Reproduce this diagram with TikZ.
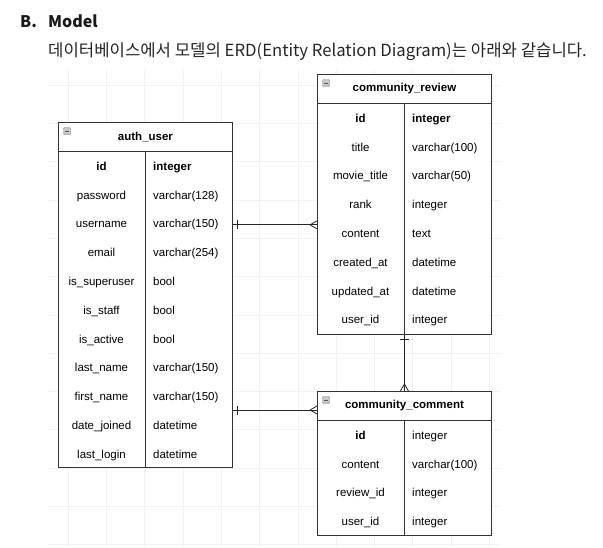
\documentclass[tikz,border=0pt]{standalone}
\usepackage{fontspec}
\setmainfont{Liberation Sans}
\newfontfamily\krfont{Noto Sans CJK KR}
\usetikzlibrary{positioning}

\tikzset{
    gridline/.style={draw=black!5, line width=0.5pt},
    heading/.style={font=\krfont\bfseries\fontsize{16}{18}\selectfont, text=black!90, inner sep=0pt},
    intro/.style={font=\krfont\fontsize{16.7}{19}\selectfont, text=black!85, inner sep=0pt},
    tbl/.style={draw=black!80, fill=white, line width=0.9pt, inner sep=0pt, minimum width=174pt},
    tblline/.style={draw=black!80, line width=0.9pt},
    tbltitle/.style={font=\bfseries\fontsize{11.5}{13}\selectfont, inner sep=0pt},
    fld/.style={font=\fontsize{11.5}{13}\selectfont, anchor=base, inner sep=0pt},
    typ/.style={font=\fontsize{11.5}{13}\selectfont, anchor=base west, inner sep=0pt},
    minus/.style={draw=black!50, fill=black!22, rounded corners=1pt, minimum size=7pt, inner sep=0pt,
        path picture={\draw[black!65, line width=0.8pt] ([xshift=1.5pt]path picture bounding box.west) -- ([xshift=-1.5pt]path picture bounding box.east);}},
    link/.style={draw=black!85, line width=0.8pt}
}

\begin{document}
\begin{tikzpicture}[x=1pt,y=-1pt]
    \useasboundingbox[fill=white] (0,0) rectangle (603,547);
    % faint grid behind the diagram
    \foreach \x in {68,106.3,...,500} {\draw[gridline] (\x,70) -- (\x,547);}
    \foreach \y in {85,123.3,...,547} {\draw[gridline] (48,\y) -- (500,\y);}

    % heading
    \node[heading, anchor=base west] (sec) at (20,27) {B.};
    \node[heading, anchor=base west] (sectitle) at (48,27) {Model};
    \node[intro, anchor=base west] (intro) at (48,56) {데이터베이스에서 모델의 ERD(Entity Relation Diagram)는 아래와 같습니다.};

    % auth_user
    \node[tbl, minimum height=345pt, anchor=north west] (auth) at (58,122) {};
    \draw[tblline] ([yshift=-29pt]auth.north west) -- ([yshift=-29pt]auth.north east);
    \draw[tblline] ([xshift=87pt]auth.south west) -- ([xshift=87pt,yshift=-29pt]auth.north west);
    \node[minus] (auth-icon) at ([xshift=9pt,yshift=-9pt]auth.north west) {};
    \node[tbltitle] (auth-title) at ([yshift=-15pt]auth.north) {auth\_user};
    \foreach \f/\t [count=\i] in {\textbf{id}/\textbf{integer}, password/varchar(128), username/varchar(150),
        email/varchar(254), is\_superuser/bool, is\_staff/bool, is\_active/bool, last\_name/varchar(150),
        first\_name/varchar(150), date\_joined/datetime, last\_login/datetime}{
        \node[fld] (au-f\i) at (101.5,141.5+\i*28.8) {\f};
        \node[typ] (au-t\i) at (153,141.5+\i*28.8) {\t};
    }

    % community_review
    \node[tbl, minimum height=260pt, anchor=north west] (review) at (317,74) {};
    \draw[tblline] ([yshift=-29pt]review.north west) -- ([yshift=-29pt]review.north east);
    \draw[tblline] ([xshift=87pt]review.south west) -- ([xshift=87pt,yshift=-29pt]review.north west);
    \node[minus] (review-icon) at ([xshift=9pt,yshift=-9pt]review.north west) {};
    \node[tbltitle] (review-title) at ([yshift=-15pt]review.north) {community\_review};
    \foreach \f/\t [count=\i] in {\textbf{id}/\textbf{integer}, title/varchar(100), movie\_title/varchar(50),
        rank/integer, content/text, created\_at/datetime, updated\_at/datetime, user\_id/integer}{
        \node[fld] (rv-f\i) at (360.5,93.5+\i*28.8) {\f};
        \node[typ] (rv-t\i) at (412,93.5+\i*28.8) {\t};
    }

    % community_comment
    \node[tbl, minimum height=144pt, anchor=north west] (comment) at (317,391) {};
    \draw[tblline] ([yshift=-29pt]comment.north west) -- ([yshift=-29pt]comment.north east);
    \draw[tblline] ([xshift=87pt]comment.south west) -- ([xshift=87pt,yshift=-29pt]comment.north west);
    \node[minus] (comment-icon) at ([xshift=9pt,yshift=-9pt]comment.north west) {};
    \node[tbltitle] (comment-title) at ([yshift=-15pt]comment.north) {community\_comment};
    \foreach \f/\t [count=\i] in {\textbf{id}/integer, content/varchar(100), review\_id/integer, user\_id/integer}{
        \node[fld] (cm-f\i) at (360.5,410.5+\i*28.8) {\f};
        \node[typ] (cm-t\i) at (412,410.5+\i*28.8) {\t};
    }

    % one-to-many links
    % auth_user -> community_review
    \draw[link] (auth.east |- au-f3) -- (review.west |- au-f3);
    \draw[link] ([xshift=4pt]auth.east |- au-f3) ++(0,4.5pt) -- ++(0,-9pt);
    \draw[link] ([xshift=-7pt]review.west |- au-f3) -- ++(7pt,4pt)
        ([xshift=-7pt]review.west |- au-f3) -- ++(7pt,-4pt);
    % auth_user -> community_comment
    \draw[link] ([yshift=-4pt]auth.east |- comment-title) -- ([yshift=-4pt]comment.west |- comment-title);
    \draw[link] ([xshift=4pt,yshift=-4pt]auth.east |- comment-title) ++(0,4.5pt) -- ++(0,-9pt);
    \draw[link] ([xshift=-7pt,yshift=-4pt]comment.west |- comment-title) -- ++(7pt,4pt)
        ([xshift=-7pt,yshift=-4pt]comment.west |- comment-title) -- ++(7pt,-4pt);
    % community_review -> community_comment
    \draw[link] (review.south) -- (comment.north);
    \draw[link] ([yshift=-4pt]review.south) ++(-4.5pt,0) -- ++(9pt,0);
    \draw[link] ([yshift=7pt]comment.north) -- ++(4pt,-7pt)
        ([yshift=7pt]comment.north) -- ++(-4pt,-7pt);
\end{tikzpicture}
\end{document}
